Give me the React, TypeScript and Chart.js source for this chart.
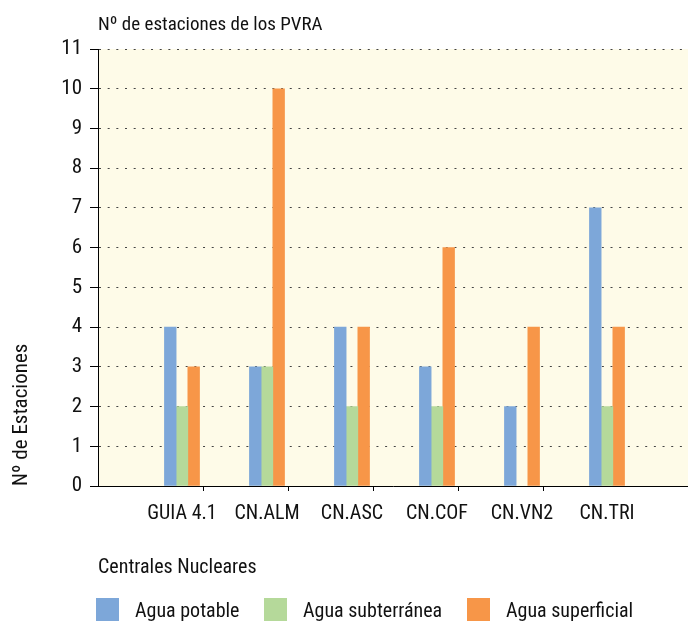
import React, { useEffect, useRef } from "react";
import { Chart, registerables } from "chart.js";

Chart.register(...registerables);

const categories = ["GUIA 4.1", "CN.ALM", "CN.ASC", "CN.COF", "CN.VN2", "CN.TRI"];
const aguaPotable = [4, 3, 4, 3, 2, 7];
const aguaSubterranea: (number | null)[] = [2, 3, 2, 2, null, 2];
const aguaSuperficial = [3, 10, 4, 6, 4, 4];
const seriesNames = ["Agua potable", "Agua subterránea", "Agua superficial"];
const seriesColors = ["#7DA7D9", "#B5D99A", "#F79648"];
const chartTitle = "Nº de estaciones de los PVRA";
const yTitle = "Nº de Estaciones";
const xTitle = "Centrales Nucleares";
const yMin = 0;
const yMax = 11;

const FONT = "'Roboto Condensed', sans-serif";
const TEXT = "#111111";

const overlay = {
  id: "overlay",
  beforeDraw(chart: any) {
    const { ctx, chartArea } = chart;
    ctx.save();
    ctx.fillStyle = "#FEFBE8";
    ctx.fillRect(chartArea.left, chartArea.top, chartArea.right - chartArea.left, chartArea.bottom - chartArea.top);
    ctx.restore();
  },
  afterDraw(chart: any) {
    const { ctx, chartArea } = chart;
    ctx.save();
    ctx.fillStyle = TEXT;
    ctx.textBaseline = "alphabetic";
    ctx.textAlign = "left";
    ctx.font = `19px ${FONT}`;
    ctx.fillText(chartTitle, chartArea.left, 30);
    ctx.font = `20px ${FONT}`;
    ctx.fillText(xTitle, chartArea.left, 573);
    const boxX = [96, 264, 467];
    seriesNames.forEach((name, i) => {
      ctx.fillStyle = seriesColors[i];
      ctx.fillRect(boxX[i], 598, 23, 23);
      ctx.fillStyle = TEXT;
      ctx.fillText(name, boxX[i] + 39, 617);
    });
    ctx.restore();
  },
};

export default function App() {
  const ref = useRef<HTMLCanvasElement>(null);
  useEffect(() => {
    if (!ref.current) return;
    const xMin = -0.988;
    const xMax = 5.953;
    const mk = (arr: (number | null)[]) => arr.map((v, i) => ({ x: i, y: v }));
    const chart = new Chart(ref.current, {
      type: "bar",
      data: {
        datasets: [aguaPotable, aguaSubterranea, aguaSuperficial].map((arr, i) => ({
          label: seriesNames[i],
          data: mk(arr as any),
          backgroundColor: seriesColors[i],
          borderWidth: 0,
          barThickness: 11.7,
        })) as any,
      },
      options: {
        animation: false,
        responsive: true,
        maintainAspectRatio: false,
        layout: { padding: { top: 49, right: 0, bottom: 95, left: 0 } },
        plugins: {
          legend: { display: false },
          title: { display: false },
          tooltip: { enabled: false },
        },
        scales: {
          x: {
            type: "linear",
            position: "bottom",
            min: xMin,
            max: xMax,
            offset: false,
            afterBuildTicks: (scale: any) => {
              const vals = [xMin];
              for (let v = 0; v <= 5; v += 0.5) vals.push(v);
              scale.ticks = vals.map((v) => ({ value: v }));
            },
            afterFit: (scale: any) => {
              scale.height = 40;
            },
            ticks: {
              autoSkip: false,
              maxRotation: 0,
              minRotation: 0,
              padding: 11,
              color: TEXT,
              font: { family: FONT, size: 20 },
              callback: (v: any) => (Number.isInteger(v) && v >= 0 ? categories[v] : ""),
            },
            grid: {
              drawOnChartArea: false,
              drawTicks: true,
              tickLength: 5,
              tickColor: (c: any) => {
                const v = c.tick ? c.tick.value : 0;
                return Number.isInteger(v) && v >= 0 ? "rgba(0,0,0,0)" : "#000";
              },
            },
            border: { display: true, color: "#000", width: 1 },
          },
          y: {
            type: "linear",
            min: yMin,
            max: yMax,
            afterFit: (scale: any) => {
              scale.width = 98;
            },
            ticks: {
              stepSize: 1,
              padding: 8,
              color: TEXT,
              font: { family: FONT, size: 21 },
            },
            grid: {
              color: "#444",
              lineWidth: 1,
              tickLength: 8,
              tickColor: "#000",
              tickBorderDash: [],
            },
            border: { display: true, color: "#000", width: 1, dash: [2, 6.67] },
            title: {
              display: true,
              text: yTitle,
              align: "start",
              color: TEXT,
              font: { family: FONT, size: 21 },
              padding: { top: 9, bottom: 0 },
            },
          },
        },
      },
      plugins: [overlay],
    });
    return () => chart.destroy();
  }, []);
  return (
    <div style={{ position: "absolute", left: 0, top: 0, width: 688, height: 621 }}>
      <canvas ref={ref} />
    </div>
  );
}
